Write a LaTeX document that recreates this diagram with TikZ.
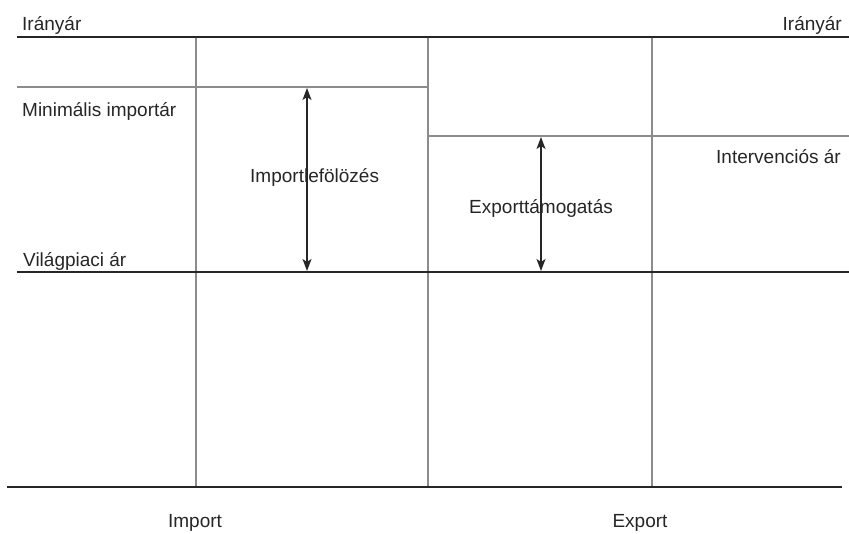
\documentclass[tikz,border=0pt]{standalone}
\usepackage{fontspec}
\setmainfont{Liberation Sans}
\usetikzlibrary{arrows.meta}
\definecolor{inkdark}{HTML}{262626}
\definecolor{inkgray}{HTML}{8C8C8C}
\tikzset{
  mainline/.style={draw=inkdark, line width=2.4pt},
  gridline/.style={draw=inkgray, line width=2.2pt},
  gap/.style={draw=black!85, line width=1.3pt, {Stealth[length=12pt,width=9pt,inset=3pt]}-{Stealth[length=12pt,width=9pt,inset=3pt]}},
  label/.style={inner sep=0pt, font=\fontsize{19}{22}\selectfont, text=black!85},
}
\begin{document}
\begin{tikzpicture}[x=1pt, y=-1pt]
  \useasboundingbox (0,0) rectangle (849,533);

  % price levels
  \coordinate (topL) at (17,37);    \coordinate (topR) at (849,37);
  \coordinate (minL) at (17,87);    \coordinate (minR) at (428,87);
  \coordinate (intL) at (428,136);  \coordinate (intR) at (849,136);
  \coordinate (wldL) at (17,272);   \coordinate (wldR) at (849,272);
  \coordinate (botL) at (7,487);    \coordinate (botR) at (842,487);

  % column separators
  \foreach \x/\n in {196/a, 428/b, 652/c} {
    \coordinate (v\n top) at (\x,37);
    \coordinate (v\n bot) at (\x,487);
  }
  \draw[gridline] (vatop) -- (vabot);
  \draw[gridline] (vbtop) -- (vbbot);
  \draw[gridline] (vctop) -- (vcbot);

  \draw[gridline] (minL) -- (minR);
  \draw[gridline] (intL) -- (intR);

  \draw[mainline] (topL) -- (topR);
  \draw[mainline] (wldL) -- (wldR);
  \draw[mainline] (botL) -- (botR);

  % levies and refunds
  \coordinate (impTop) at (307,88);  \coordinate (impBot) at (307,271);
  \coordinate (expTop) at (541,137); \coordinate (expBot) at (541,271);

  % labels
  \node[label, anchor=base west] (iranyL) at (22,30) {Irányár};
  \node[label, anchor=base east] (iranyR) at (842,30) {Irányár};
  \node[label, anchor=base west] (minimal) at (22,116) {Minimális importár};
  \node[label, anchor=base west] (vilag) at (23,266) {Világpiaci ár};
  \node[label, anchor=base west] (interv) at (716,163) {Intervenciós ár};
  \node[label, anchor=base west] (lefoloz) at (250,182) {Importlefölözés};
  \node[label, anchor=base west] (tamog) at (469,213) {Exporttámogatás};
  \node[label, anchor=base] (imp) at (195,527) {Import};
  \node[label, anchor=base] (exp) at (640,527) {Export};

  \draw[gap] (impTop) -- (impBot);
  \draw[gap] (expTop) -- (expBot);
\end{tikzpicture}
\end{document}
